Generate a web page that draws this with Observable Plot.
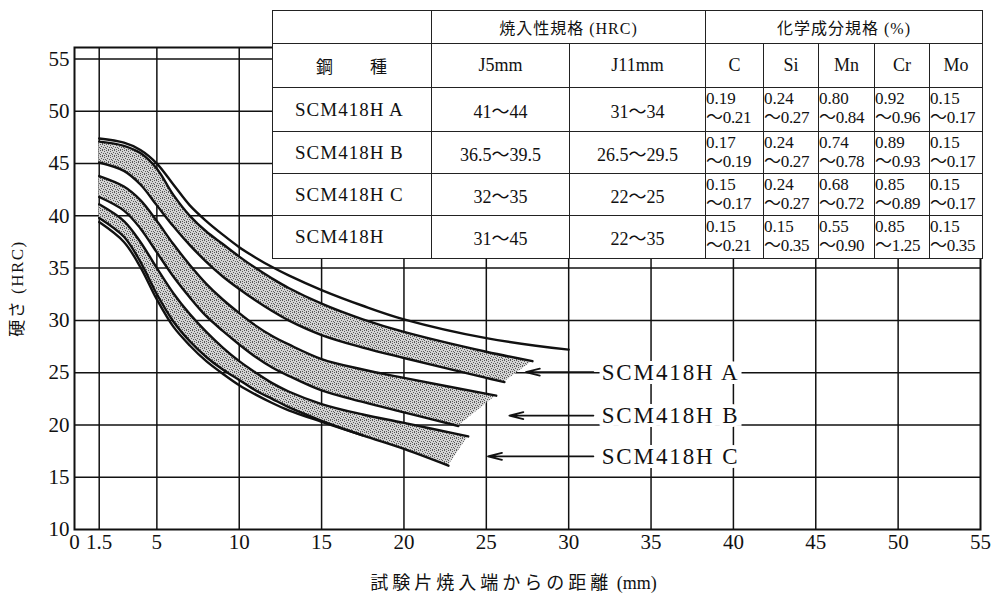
<!DOCTYPE html>
<html>
<head>
<meta charset="utf-8">
<script src="https://cdn.jsdelivr.net/npm/d3@7"></script>
<script src="https://cdn.jsdelivr.net/npm/@observablehq/plot@0.6"></script>
<style>
  body { margin: 0; background: #fff; }
  #wrap { position: relative; width: 994px; height: 599px; overflow: hidden; background: #fff;
          font-family: "Liberation Serif", "Noto Sans CJK JP", serif; color: #111; }
  #chart { position: absolute; left: 0; top: 0; }
  #tbl { position: absolute; left: 272px; top: 10px; border-collapse: collapse; table-layout: fixed;
         background: #fff; z-index: 2; }
  #tbl td { border: 1px solid #222; padding: 0; text-align: center; font-size: 18px; color: #111;
            vertical-align: middle; overflow: hidden; white-space: nowrap; }
  #tbl td.name { text-align: left; padding-left: 22px; letter-spacing: 1px; font-size: 19px; }
  #tbl td.jp { font-size: 16px; letter-spacing: 1px; }
  #tbl td.chem { text-align: left; font-size: 17px; line-height: 19px; vertical-align: top; padding-top: 1px; }
  #tbl td.chem div.b { letter-spacing: -0.3px; }
</style>
</head>
<body>
<div id="wrap"><div id="chart"></div><table id="tbl"></table></div>
<script>
// ---------------- data ----------------
const xTicks = [0, 1.5, 5, 10, 15, 20, 25, 30, 35, 40, 45, 50, 55];
const yTicks = [10, 15, 20, 25, 30, 35, 40, 45, 50, 55];
const gridX = [1.5, 5, 10, 15, 20, 25, 30, 35, 40, 45, 50];
const gridY = [15, 20, 25, 30, 35, 40, 45, 50, 55];

// hardenability curves [distance mm, HRC]
const hBandUpper = [[1.5,47.4],[3,47.0],[4,46.3],[5,45.0],[6,43.0],[7,41.0],[8,39.5],[9,38.2],[10,37.0],[11,36.0],[12,35.1],[13,34.3],[15,32.9],[17.5,31.4],[20,30.1],[25,28.3],[30,27.2]];
const hBandLower = [[1.5,39.4],[3,37.5],[4,35.1],[5,32.0],[6,29.4],[7,27.6],[8,26.1],[9,24.9],[10,23.8],[11,22.9],[12,22.1],[13,21.4],[15,20.3],[17.5,19.0]];
const aUpper = [[1.5,47.1],[3,46.7],[4,46.0],[5,44.5],[6,42.0],[7,40.0],[8,38.5],[9,37.3],[10,36.1],[11,35.0],[12,34.0],[13,33.1],[15,31.6],[17.5,30.1],[20,28.9],[25,27.0],[27.8,26.1]];
const aLower = [[1.5,45.1],[3,44.3],[4,43.0],[5,41.0],[6,39.0],[7,37.2],[8,35.6],[9,34.2],[10,33.0],[11,31.9],[12,30.9],[13,30.0],[15,28.6],[17.5,27.4],[20,26.4],[25,24.5],[26.1,24.1]];
const bUpper = [[1.5,43.8],[3,42.8],[4,41.5],[5,39.5],[6,37.3],[7,35.3],[8,33.5],[9,32.0],[10,30.7],[11,29.5],[12,28.5],[13,27.7],[15,26.3],[17.5,25.3],[20,24.5],[25.6,22.8]];
const bLower = [[1.5,41.8],[3,40.5],[4,38.8],[5,36.5],[6,34.2],[7,32.2],[8,30.4],[9,29.0],[10,27.7],[11,26.5],[12,25.5],[13,24.7],[15,23.3],[17.5,22.2],[20,21.2],[23.3,19.9]];
const cUpper = [[1.5,41.1],[3,39.5],[4,37.5],[5,35.0],[6,32.6],[7,30.6],[8,28.9],[9,27.4],[10,26.1],[11,25.0],[12,24.0],[13,23.2],[15,22.0],[17.5,21.0],[20,20.2],[23.9,18.9]];
const cLower = [[1.5,39.8],[3,38.0],[4,35.6],[5,32.5],[6,29.9],[7,28.0],[8,26.5],[9,25.3],[10,24.3],[11,23.3],[12,22.5],[13,21.7],[15,20.4],[17.5,19.0],[20,17.7],[22.7,16.1]];

// band labels + arrows
const bandLabels = ["SCM418H A", "SCM418H B", "SCM418H C"];
const labelHRC = [25.05, 20.9, 17.0];
const arrowTip = [27.4, 26.4, 25.1];
const arrowTail = 31.5;
const labelStart = 32.0;

// table
const steelNames = ["SCM418H A", "SCM418H B", "SCM418H C", "SCM418H"];
const j5 = ["41～44", "36.5～39.5", "32～35", "31～45"];
const j11 = ["31～34", "26.5～29.5", "22～25", "22～35"];
const elements = ["C", "Si", "Mn", "Cr", "Mo"];
const chem = [
  [["0.19","0.21"],["0.24","0.27"],["0.80","0.84"],["0.92","0.96"],["0.15","0.17"]],
  [["0.17","0.19"],["0.24","0.27"],["0.74","0.78"],["0.89","0.93"],["0.15","0.17"]],
  [["0.15","0.17"],["0.24","0.27"],["0.68","0.72"],["0.85","0.89"],["0.15","0.17"]],
  [["0.15","0.21"],["0.15","0.35"],["0.55","0.90"],["0.85","1.25"],["0.15","0.35"]]
];
const xTitleJa = "試験片焼入端からの距離";
const xTitleUnit = " (mm)";
const yTitle = "硬さ (HRC)";

// ---------------- build ----------------
const bands = [
  {name: "A", upper: aUpper, lower: aLower},
  {name: "B", upper: bUpper, lower: bLower},
  {name: "C", upper: cUpper, lower: cLower}
];
const bandRows = bands.flatMap(b => b.upper.map((p, i) => ({
  band: b.name, x1: p[0], y1: p[1], x2: b.lower[i][0], y2: b.lower[i][1]
})));
const curves = {hU: hBandUpper, hL: hBandLower, aU: aUpper, aL: aLower, bU: bUpper, bL: bLower, cU: cUpper, cL: cLower};
const curveRows = Object.entries(curves).flatMap(([k, pts]) => pts.map(([x, y]) => ({k, x, y})));
const labelRows = bandLabels.map((t, i) => ({text: t, y: labelHRC[i], tip: arrowTip[i], tail: arrowTail, start: labelStart}));

const serif = '"Liberation Serif", "Noto Sans CJK JP", serif';

const chart = Plot.plot({
  width: 994,
  height: 599,
  marginLeft: 74,
  marginRight: 14,
  marginTop: 47,
  marginBottom: 70,
  style: {fontFamily: serif, fontSize: "21px", color: "#111", background: "transparent"},
  x: {domain: [0, 55], ticks: xTicks, tickSize: 0, tickPadding: 5, label: null, tickFormat: d => String(d)},
  y: {domain: [10, 56.1], ticks: yTicks, tickSize: 0, tickPadding: 5, label: null, tickFormat: d => String(d)},
  marks: [
    Plot.ruleX(gridX, {stroke: "#111", strokeWidth: 1.5}),
    Plot.ruleY(gridY, {stroke: "#111", strokeWidth: 1.5}),
    Plot.area(bandRows, {x1: "x1", y1: "y1", x2: "x2", y2: "y2", z: "band", fill: "url(#stip)", curve: "catmull-rom"}),
    Plot.line(curveRows, {x: "x", y: "y", z: "k", stroke: "#111", strokeWidth: 2.4, curve: "catmull-rom"}),
    Plot.frame({stroke: "#111", strokeWidth: 2}),
    Plot.arrow(labelRows, {x1: "tail", y1: "y", x2: "tip", y2: "y", stroke: "#111", strokeWidth: 1.8, headLength: 12, headAngle: 28}),
    Plot.text(labelRows, {x: "start", y: "y", text: "text", textAnchor: "start", fontSize: 23, fontFamily: serif,
      fill: "#111", stroke: "white", strokeWidth: 8}),
    Plot.text([xTitleJa + xTitleUnit], {frameAnchor: "bottom", textAnchor: "middle", dx: -14, dy: 59, fontSize: 18, fontFamily: serif, fill: "#111"}),
    Plot.text([yTitle], {frameAnchor: "left", textAnchor: "middle", dx: -57, rotate: -90, fontSize: 17, fontFamily: serif, fill: "#111"})
  ]
});

// stipple pattern for the bands
const svg = d3.select(chart);
const pat = svg.insert("defs", ":first-child").append("pattern")
  .attr("id", "stip").attr("width", 6).attr("height", 6).attr("patternUnits", "userSpaceOnUse");
pat.append("rect").attr("width", 6).attr("height", 6).attr("fill", "#d4d4d4");
[[0,0],[4,0],[2,1],[5,2],[1,3],[3,3],[0,5],[4,4],[2,5]].forEach(([px, py]) =>
  pat.append("rect").attr("x", px).attr("y", py).attr("width", 1).attr("height", 1).attr("fill", "#5a5a5a"));
const textGroups = svg.selectAll('g[aria-label="text"]').nodes();
d3.select(textGroups[0]).selectAll("text").attr("letter-spacing", "1.9px");
// x title: spaced Japanese part, unspaced unit
d3.select(textGroups[1]).selectAll("text").each(function() {
  const t = d3.select(this);
  t.text(null);
  t.append("tspan").attr("letter-spacing", "4px").text(xTitleJa);
  t.append("tspan").attr("letter-spacing", "0px").text(xTitleUnit);
});
d3.select(textGroups[2]).selectAll("text").attr("letter-spacing", "1.5px");
document.getElementById("chart").appendChild(chart);

// white backing behind the band labels so the grid lines stop at the text (as in the print)
const labelGroup = d3.select(textGroups[0]);
const groupTransform = labelGroup.attr("transform");
const backing = d3.select(chart).insert("g", () => textGroups[0]).attr("transform", groupTransform);
labelGroup.selectAll("text").each(function() {
  const b = this.getBBox();
  const tr = this.getAttribute("transform");
  backing.append("rect").attr("transform", tr)
    .attr("x", b.x - 2).attr("y", b.y + 2).attr("width", b.width + 4).attr("height", b.height - 4)
    .attr("fill", "white");
});

// table
const colW = [159, 138, 136, 58, 55, 56, 55, 53];
const rowH = [33, 44, 44, 42, 42, 43];
const tbl = d3.select("#tbl");
tbl.append("colgroup").selectAll("col").data(colW).join("col").style("width", d => d + "px");
const r0 = tbl.append("tr").style("height", rowH[0] + "px");
r0.append("td");
r0.append("td").attr("colspan", 2).attr("class", "jp").text("焼入性規格 (HRC)");
r0.append("td").attr("colspan", 5).attr("class", "jp").text("化学成分規格 (%)");
const r1 = tbl.append("tr").style("height", rowH[1] + "px");
r1.append("td").attr("class", "jp").style("font-size", "17px").html("鋼&emsp;&emsp;種");
r1.append("td").text("J5mm");
r1.append("td").text("J11mm");
elements.forEach(e => r1.append("td").text(e));
steelNames.forEach((n, i) => {
  const r = tbl.append("tr").style("height", rowH[i + 2] + "px");
  r.append("td").attr("class", "name").text(n);
  r.append("td").text(j5[i]);
  r.append("td").text(j11[i]);
  chem[i].forEach(([lo, hi]) => {
    const td = r.append("td").attr("class", "chem");
    td.append("div").text(lo);
    td.append("div").attr("class", "b").text("～" + hi);
  });
});
</script>
</body>
</html>
